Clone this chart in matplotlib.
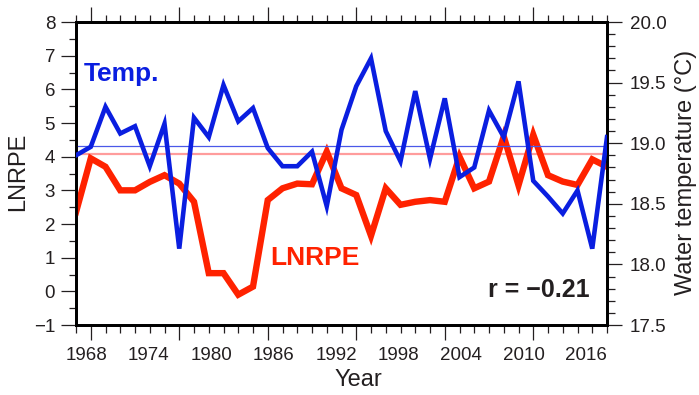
import numpy as np
import matplotlib
matplotlib.use('Agg')
import matplotlib.pyplot as plt
from matplotlib.ticker import FormatStrFormatter

plt.rcParams['font.family'] = ['Liberation Sans', 'DejaVu Sans']
plt.rcParams['axes.unicode_minus'] = True

# annual series (37 samples spread over 1967-2018)
lnrpe = [2.35, 3.95, 3.7, 3.0, 3.0, 3.25, 3.45, 3.2, 2.66, 0.54,
         0.54, -0.1, 0.14, 2.71, 3.06, 3.2, 3.18, 4.15, 3.06, 2.86,
         1.65, 3.06, 2.57, 2.66, 2.71, 2.66, 4.0, 3.06, 3.26, 4.6,
         3.15, 4.65, 3.45, 3.26, 3.16, 3.92, 3.7]
temp = [18.9, 18.97, 19.3, 19.08, 19.14, 18.81, 19.16, 18.13, 19.21, 19.05,
        19.48, 19.18, 19.29, 18.96, 18.81, 18.81, 18.93, 18.48, 19.11, 19.47,
        19.7, 19.1, 18.85, 19.43, 18.87, 19.37, 18.72, 18.8, 19.27, 19.05,
        19.51, 18.69, 18.56, 18.42, 18.61, 18.13, 19.05]
label_years = [1968, 1974, 1980, 1986, 1992, 1998, 2004, 2010, 2016]
lnrpe_ref = 4.08
temp_ref = 18.98
r_value = -0.21

years = np.linspace(1967, 2018, len(lnrpe))

BLUE = '#0a1ee0'
RED = '#ff2200'
TXT = '#231f20'

fig = plt.figure(figsize=(6.99, 3.95), dpi=100)
ax = fig.add_axes([76 / 699, 70 / 395, 531 / 699, 303 / 395])

ax.axhline(lnrpe_ref, color='#ff9c9c', lw=1.6, zorder=1)
ax.plot(years, lnrpe, color=RED, lw=4.6, solid_joinstyle='miter', zorder=3)
ax.set_xlim(years[0], years[-1])
ax.set_ylim(-1, 8)

ax2 = ax.twinx()
ax2.axhline(temp_ref, color='#4a58e8', lw=0.9, zorder=1)
ax2.plot(years, temp, color=BLUE, lw=3.3, solid_joinstyle='miter', zorder=3)
ax2.set_ylim(17.5, 20.0)

for a in (ax, ax2):
    for s in a.spines.values():
        s.set_linewidth(2.0)

# tick marks follow the samples; year labels sit on their own axis
ax.set_xticks(years[1::6])
ax.set_xticks(years, minor=True)
ax.tick_params(axis='x', which='both', direction='out', top=True,
               labelbottom=False, width=0.9, color=TXT)
ax.tick_params(axis='x', which='major', length=11)
ax.tick_params(axis='x', which='minor', length=5.4)

ax.set_yticks(np.arange(-1, 9, 1))
ax.set_yticks(np.arange(-0.5, 8, 1), minor=True)
ax.tick_params(axis='y', which='both', direction='out', width=0.9,
               color=TXT, labelsize=13.5, labelcolor=TXT, pad=4)
ax.tick_params(axis='y', which='major', length=11)
ax.tick_params(axis='y', which='minor', length=5.4)

ax2.set_yticks(np.arange(17.5, 20.01, 0.5))
ax2.set_yticks(np.arange(17.5, 20.01, 0.1), minor=True)
ax2.yaxis.set_major_formatter(FormatStrFormatter('%.1f'))
ax2.tick_params(axis='y', which='both', direction='out', width=0.9,
                color=TXT, labelsize=13.5, labelcolor=TXT, pad=5.5)
ax2.tick_params(axis='y', which='major', length=11)
ax2.tick_params(axis='y', which='minor', length=5.4)

lab = ax.secondary_xaxis('bottom')
lab.set_xticks(label_years)
lab.set_xticklabels([str(y) for y in label_years])
lab.tick_params(length=0, pad=16, labelsize=13.5, labelcolor=TXT)
lab.spines['bottom'].set_visible(False)

ax.text(0.015, 0.805, 'Temp.', transform=ax.transAxes, color=BLUE,
        fontsize=19, fontweight='bold', va='baseline', ha='left')
ax.text(0.365, 0.198, 'LNRPE', transform=ax.transAxes, color=RED,
        fontsize=19, fontweight='bold', va='baseline', ha='left')
ax.text(0.968, 0.091, 'r = \u2212%.2f' % abs(r_value), transform=ax.transAxes,
        color=TXT, fontsize=18, fontweight='bold', va='baseline', ha='right')

fig.text(18 / 699, 1 - 172 / 395, 'LNRPE', rotation=90, fontsize=17,
         color=TXT, ha='center', va='center')
fig.text(358 / 699, 1 - 380 / 395, 'Year', fontsize=17, color=TXT,
         ha='center', va='center')
fig.text(686 / 699, 1 - 172 / 395, 'Water temperature (\u00b0C)', rotation=90,
         fontsize=17, color=TXT, ha='center', va='center')

fig.savefig('out.png', dpi=100)
